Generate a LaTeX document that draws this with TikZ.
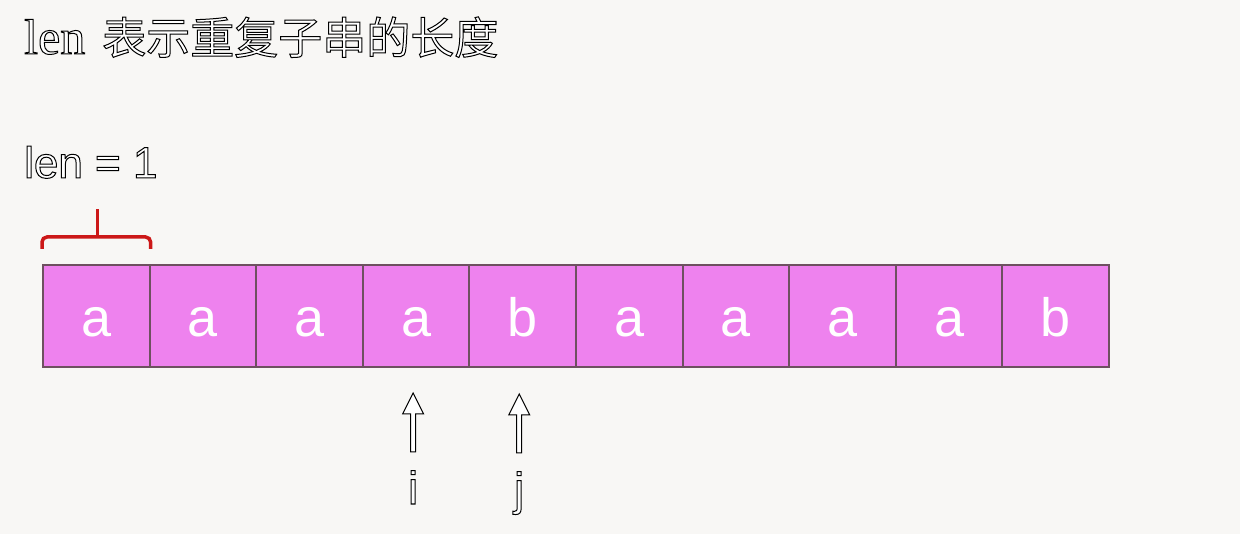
\documentclass[tikz,border=0pt]{standalone}
\usepackage{fontspec}
\setmainfont{Liberation Serif}
\newfontfamily\cjkfont{Noto Sans CJK SC}
\newfontfamily\sansfont{Liberation Sans}
\newcommand{\outlined}[1]{\special{pdf:literal direct 2 Tr 1 w 0 G}#1\special{pdf:literal direct 0 Tr}}
\definecolor{bgcol}{RGB}{248,247,245}
\definecolor{cellfill}{RGB}{238,130,238}
\definecolor{celledge}{RGB}{110,80,96}
\definecolor{brred}{RGB}{204,24,24}
\tikzset{
  cellbox/.style={draw=celledge, line width=2pt, fill=cellfill, minimum width=106.6pt,
    minimum height=102pt, inner sep=0pt, text=white, text height=42pt, text depth=0pt,
    font=\sansfont\fontsize{54}{54}\selectfont},
  bracketline/.style={draw=brred, line width=3.5pt, rounded corners=5pt},
  hollowarrow/.style={draw=black, fill=white, line width=1pt, line join=miter},
  outlinelabel/.style={inner sep=0pt, text=white},
}
\begin{document}
\begin{tikzpicture}[x=1pt,y=-1pt]
\fill[bgcol] (0,0) rectangle (1240,534);
\useasboundingbox (0,0) rectangle (1240,534);
% title
\node[outlinelabel, anchor=base west] (title) at (24,54)
  {\outlined{{\fontsize{50}{54}\selectfont len}\hspace{17pt}{\cjkfont\fontsize{44}{50}\selectfont 表示重复子串的长度}}};
% len = 1
\node[outlinelabel, anchor=base west] (lenlabel) at (24,178)
  {\outlined{\sansfont\fontsize{44}{50}\selectfont len = 1}};
% cells
\foreach \c [count=\k from 0] in {a,a,a,a,b,a,a,a,a,b}
  \node[cellbox] (c\k) at ({43+106.6*\k+53.3},316) {\c};
% red bracket
\draw[bracketline] ([yshift=15pt]c0.north west) -- ([yshift=27pt]c0.north west)
  -- ([yshift=27pt]c0.north east) -- ([yshift=15pt]c0.north east);
\coordinate (brmid) at ([yshift=27pt, xshift=1pt]c0.north);
\draw[draw=brred, line width=3.5pt] (brmid) -- ++(0,-28);
% arrows
\coordinate (tipi) at ([xshift=-3pt, yshift=-25pt]c3.south);
\coordinate (tipj) at ([xshift=-3.5pt, yshift=-26pt]c4.south);
\foreach \t in {tipi,tipj}
  \draw[hollowarrow] (\t) -- ++(10.5,21) -- ++(-8,0) -- ++(0,38) -- ++(-5,0)
    -- ++(0,-38) -- ++(-8,0) -- cycle;
\node[outlinelabel, anchor=base] (ilabel) at ([yshift=-111pt]tipi)
  {\outlined{\sansfont\fontsize{46}{50}\selectfont i}};
\node[outlinelabel, anchor=base] (jlabel) at ([yshift=-111pt]tipj)
  {\outlined{\sansfont\fontsize{46}{50}\selectfont j}};
\end{tikzpicture}
\end{document}
